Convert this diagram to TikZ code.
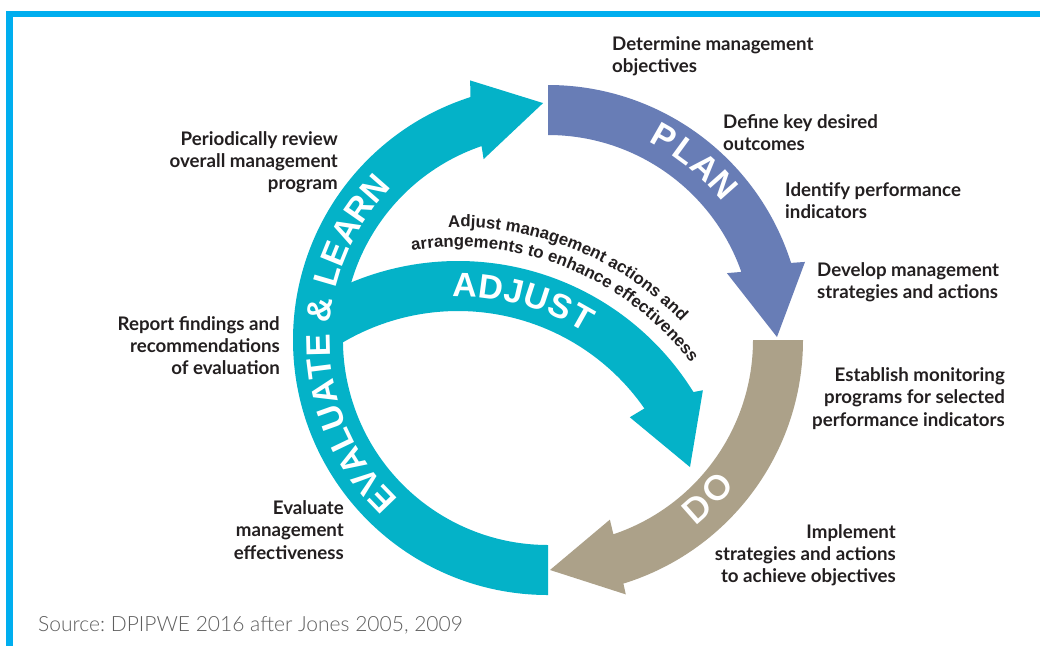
\documentclass[tikz,border=0pt]{standalone}
\usepackage{fontspec}
\usetikzlibrary{decorations.text}
\newfontfamily\lato{Lato}
\newfontfamily\latolight{Lato Light}
\newfontfamily\arialf{Liberation Sans}
\newcommand\adjf{\arialf\bfseries\fontsize{16.8}{16.8}\selectfont}
\definecolor{cTeal}{RGB}{4,178,200}
\definecolor{cPlan}{RGB}{104,125,182}
\definecolor{cDo}{RGB}{172,161,137}
\definecolor{cFrame}{RGB}{0,174,239}
\definecolor{cTxt}{RGB}{35,31,32}
\definecolor{cSrc}{RGB}{95,95,95}
\frenchspacing
\begin{document}
\begin{tikzpicture}[x=1pt,y=1pt,
  lbl/.style={inner sep=0pt, text=cTxt, font=\lato\bfseries\fontsize{18.7}{22.2}\selectfont},
  big/.style={inner sep=0pt, text=white, font=\arialf\bfseries\fontsize{34}{34}\selectfont},
  bigdo/.style={inner sep=0pt, text=white, font=\lato\bfseries\fontsize{34}{34}\selectfont}]
\useasboundingbox (0,0) rectangle (1040,-646);
\fill[white] (0,0) rectangle (1040,-646);
% frame
\fill[cFrame] (6,-11) rectangle (1040,-17);
\fill[cFrame] (6,-11) rectangle (13,-646);
% main ring arrows
\begin{scope}[shift={(548,-340)}]
  \fill[cTeal] (270:255) arc[start angle=270,end angle=107.7,radius=255]
    -- (106.7:271) -- (91.2:237) -- (109.6:192) -- (108.9:205)
    arc[start angle=108.9,end angle=270,radius=205] -- cycle;
  \fill[cPlan] (90:255) arc[start angle=90,end angle=17.6,radius=255]
    -- (16.9:268.6) -- (0.75:229) -- (20.5:191) -- (19.4:205)
    arc[start angle=19.4,end angle=90,radius=205] -- cycle;
  \fill[cDo] (0:255) arc[start angle=0,end angle=-72.8,radius=255]
    -- (-73:266) -- (-89.5:230) -- (-71:190) -- (-71.4:205)
    arc[start angle=-71.4,end angle=0,radius=205] -- cycle;
\end{scope}
% adjust arrow
\begin{scope}[shift={(458,-538)}]
  \fill[cTeal] (125:277) arc[start angle=125,end angle=31.8,radius=277]
    -- (31.1:286) -- (17:242.6) -- (35.1:210) -- (34.8:227)
    arc[start angle=34.8,end angle=125,radius=227] -- cycle;
\end{scope}
% ring words
\begin{scope}[shift={(548,-340)}]
  \foreach \c/\a [count=\i] in {P/60.3,L/53.8,A/47.6,N/41.6}
    \node[big, rotate=\a-90] (plan\i) at (\a:234) {\c};
  \foreach \c/\a [count=\i] in {E/224,V/218,A/211.7,L/205.7,U/199.7,A/193.2,T/187.2,E/181.4,\&/172.4,L/163.7,E/157.9,A/151.6,R/145.2,N/138.7}
    \node[big, rotate=\a-90] (eval\i) at (\a:230) {\c};
  \foreach \c/\a [count=\i] in {D/-48.6,O/-41.2}
    \node[bigdo, rotate=\a+90] (do\i) at (\a:225) {\c};
\end{scope}
\begin{scope}[shift={(458,-538)}]
  \foreach \c/\a [count=\i] in {A/88.5,D/82.5,J/77.1,U/71.8,S/66,T/60.6}
    \node[big, rotate=\a-90] (adj\i) at (\a:253) {\c};
  \path[decorate, decoration={text along path, text align=left, text color=cTxt,
      text={|\adjf|Adjust management actions and}}]
    (91.8:311) arc[start angle=91.8,end angle=15,radius=311];
  \path[decorate, decoration={text along path, text align=left, text color=cTxt,
      text={|\adjf|arrangements to enhance effectiveness}}]
    (99.1:291) arc[start angle=99.1,end angle=10,radius=291];
\end{scope}
% labels
\node[lbl, anchor=north west, align=left] (dmo) at (612,-36.5) {Determine management\\objectives};
\node[lbl, anchor=north west, align=left] (dko) at (723,-114) {Define key desired\\outcomes};
\node[lbl, anchor=north west, align=left] (ipi) at (785,-182) {Identify performance\\indicators};
\node[lbl, anchor=north west, align=left] (dms) at (817,-262) {Develop management\\strategies and actions};
\node[lbl, anchor=north east, align=right] (emp) at (1005,-367.5) {Establish monitoring\\programs for selected\\performance indicators};
\node[lbl, anchor=north east, align=right] (isa) at (896,-524) {Implement\\strategies and actions\\to achieve objectives};
\node[lbl, anchor=north east, align=right] (eme) at (344,-500.5) {Evaluate\\management\\effectiveness};
\node[lbl, anchor=north east, align=right] (rfr) at (280,-316) {Report findings and\\recommendations\\of evaluation};
\node[lbl, anchor=north east, align=right] (prm) at (338,-131) {Periodically review\\overall management\\program};
\node[anchor=base west, inner sep=0pt, text=cSrc, font=\latolight\fontsize{21}{21}\selectfont] (src) at (38,-631) {Source: DPIPWE 2016 after Jones 2005, 2009};
\end{tikzpicture}
\end{document}
